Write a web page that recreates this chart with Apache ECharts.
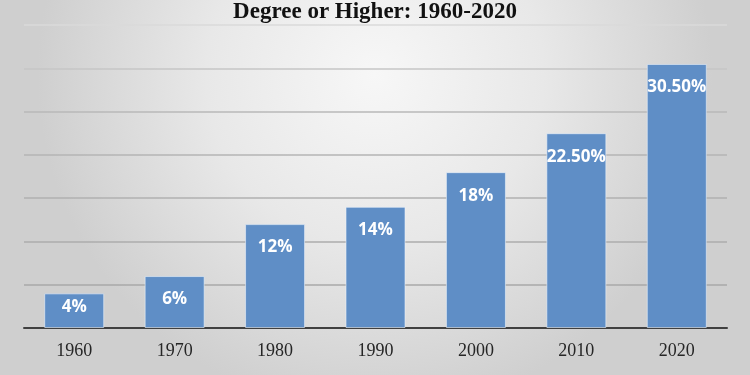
<!DOCTYPE html>
<html>
<head>
<meta charset="utf-8">
<script src="https://cdn.jsdelivr.net/npm/echarts@6/dist/echarts.min.js"></script>
<style>html,body{margin:0;padding:0;}#c{width:750px;height:375px;}</style>
</head>
<body>
<div id="c"></div>
<script>
const titleText = 'Degree or Higher: 1960-2020';
const years = ['1960', '1970', '1980', '1990', '2000', '2010', '2020'];
const values = [4, 6, 12, 14, 18, 22.5, 30.5];
const labelTexts = ['4%', '6%', '12%', '14%', '18%', '22.50%', '30.50%'];

const chart = echarts.init(document.getElementById('c'), null, {renderer: 'canvas'});
chart.setOption({
  animation: false,
  backgroundColor: {
    type: 'radial', x: 0.5, y: 0.2, r: 0.9,
    colorStops: [{offset: 0, color: '#f7f7f7'}, {offset: 0.5, color: '#e8e8e8'}, {offset: 1, color: '#cfcfcf'}]
  },
  title: {
    text: titleText, left: 'center', top: -4,
    textStyle: {fontFamily: 'Liberation Serif', fontWeight: 'bold', fontSize: 23, color: '#111'}
  },
  grid: {left: 24, right: 23, top: 25, bottom: 47},
  xAxis: {
    type: 'category', data: years,
    axisLine: {lineStyle: {color: '#404040', width: 2}},
    axisTick: {show: false},
    axisLabel: {fontFamily: 'Liberation Serif', fontSize: 18, color: '#262626', margin: 14}
  },
  yAxis: {
    type: 'value', min: 0, max: 35, interval: 5,
    axisLabel: {show: false}, axisLine: {show: false}, axisTick: {show: false},
    splitLine: {lineStyle: {color: ['#a8a8a8', '#a8a8a8', '#acacac', '#b0b0b0', '#b4b4b4', '#b8b8b8', '#c6c6c6', '#dadada'], width: 1.5}}
  },
  series: [{
    type: 'bar', barWidth: 60,
    data: values.map((v, i) => ({
      value: v,
      label: {distance: i === 0 ? 5 : 15}
    })),
    itemStyle: {color: '#5f8ec6', borderColor: 'rgba(235,242,250,0.6)', borderWidth: 1},
    label: {
      show: true, position: 'insideTop',
      formatter: p => labelTexts[p.dataIndex],
      fontFamily: 'Open Sans', fontWeight: 'bold', fontSize: 17, color: '#ffffff'
    }
  }]
});
</script>
</body>
</html>
